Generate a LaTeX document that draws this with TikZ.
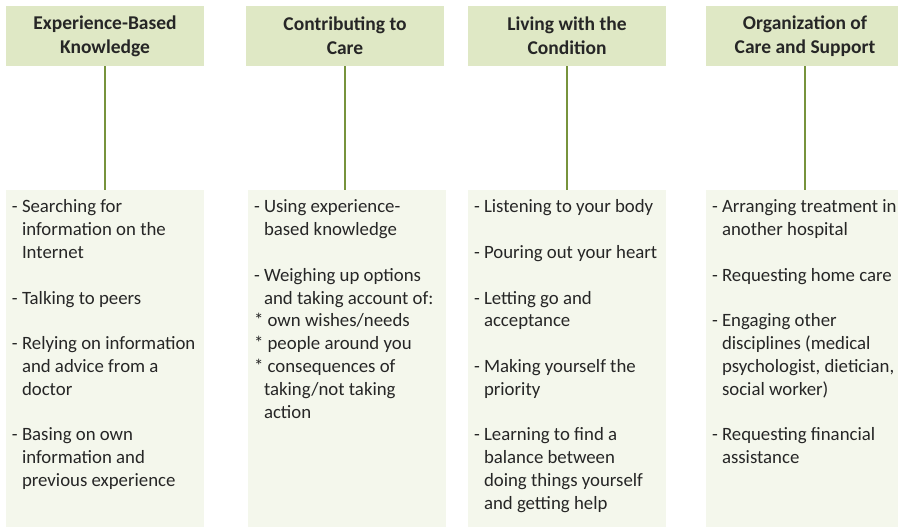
\documentclass[tikz,border=0pt]{standalone}
\usepackage{fontspec}
\setmainfont{Carlito}
\usepackage{tikz}
\usetikzlibrary{positioning}

\definecolor{headgreen}{HTML}{DFE8C5}
\definecolor{boxgreen}{HTML}{F4F7EC}
\definecolor{linegreen}{HTML}{77933C}
\definecolor{inkgray}{HTML}{262626}

\newcommand{\ind}{\phantom{-~}}

\begin{document}
\begin{tikzpicture}[x=1pt, y=-1pt,
  headbox/.style={fill=headgreen, minimum width=198pt, minimum height=60pt, inner sep=0pt,
    align=center, text=inkgray, font=\fontsize{19.5}{24}\selectfont\bfseries},
  listbox/.style={fill=boxgreen, minimum width=198pt, minimum height=337pt, inner sep=0pt},
  listtext/.style={anchor=north west, inner sep=0pt, align=left, text=inkgray,
    xshift=6pt, yshift=-7pt, font=\fontsize{18.8}{22.8}\selectfont},
  link/.style={draw=linegreen, line width=1.6pt}]
 \clip (0,0) rectangle (898,527);

 % Top row - themes
 \node[headbox] (expert) at (105,36) {Experience-Based\\Knowledge};
 \node[headbox] (contrib) at (345,36) {Contributing to\\Care};
 \node[headbox] (living) at (567,36) {Living with the\\Condition};
 \node[headbox] (organ) at (805,36) {Organization of\\Care and Support};

 % Bottom row - list panels
 \node[listbox] (expert-list) at (105,358.5) {};
 \node[listbox] (contrib-list) at (347,358.5) {};
 \node[listbox] (living-list) at (567,358.5) {};
 \node[listbox] (organ-list) at (805,358.5) {};

 % Stems from theme to panel
 \draw[link] (expert.south) -- (expert.south |- expert-list.north);
 \draw[link] (contrib.south) -- (contrib.south |- contrib-list.north);
 \draw[link] (living.south) -- (living.south |- living-list.north);
 \draw[link] (organ.south) -- (organ.south |- organ-list.north);

 % Panel texts
 \node[listtext] (expert-text) at (expert-list.north west) {\strut- Searching for\\
    \ind information on the\\
    \ind Internet\\[22.8pt]
    - Talking to peers\\[22.8pt]
    - Relying on information\\
    \ind and advice from a\\
    \ind doctor\\[22.8pt]
    - Basing on own\\
    \ind information and\\
    \ind previous experience};
 \node[listtext] (contrib-text) at (contrib-list.north west) {\strut- Using experience-\\
    \ind based knowledge\\[22.8pt]
    - Weighing up options\\
    \ind and taking account of:\\
    {*} own wishes/needs\\
    {*} people around you\\
    {*} consequences of\\
    \ind taking/not taking\\
    \ind action};
 \node[listtext] (living-text) at (living-list.north west) {\strut- Listening to your body\\[22.8pt]
    - Pouring out your heart\\[22.8pt]
    - Letting go and\\
    \ind acceptance\\[22.8pt]
    - Making yourself the\\
    \ind priority\\[22.8pt]
    - Learning to find a\\
    \ind balance between\\
    \ind doing things yourself\\
    \ind and getting help};
 \node[listtext] (organ-text) at (organ-list.north west) {\strut- Arranging treatment in\\
    \ind another hospital\\[22.8pt]
    - Requesting home care\\[22.8pt]
    - Engaging other\\
    \ind disciplines (medical\\
    \ind psychologist, dietician,\\
    \ind social worker)\\[22.8pt]
    - Requesting financial\\
    \ind assistance};
\end{tikzpicture}
\end{document}
